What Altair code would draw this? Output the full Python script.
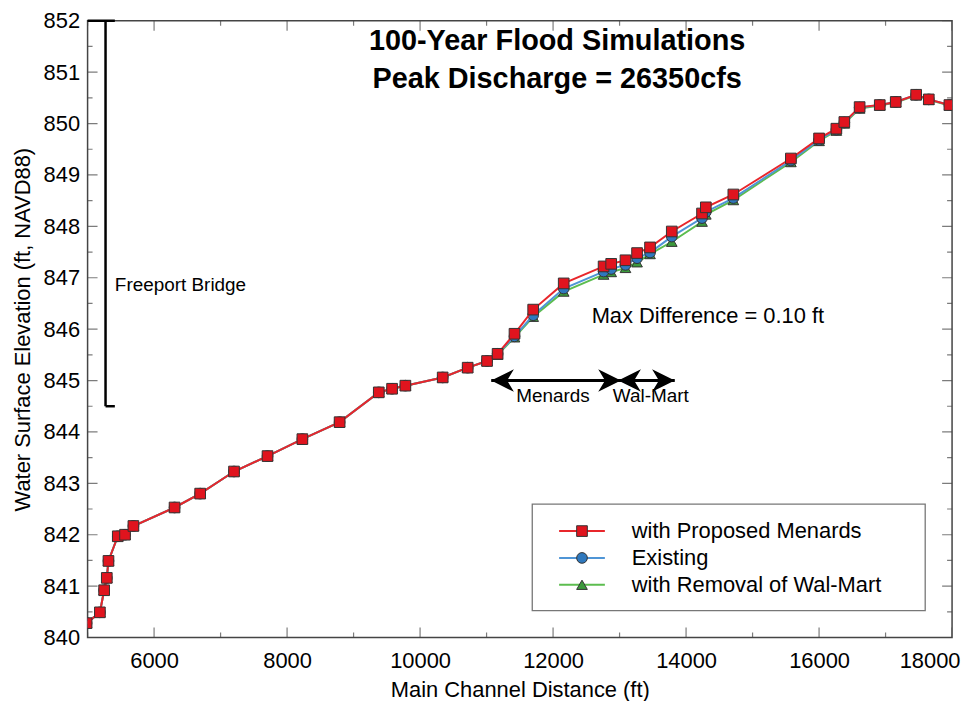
import altair as alt
import pandas as pd

# ---------------- data ----------------
distance = [4985, 5185, 5249, 5289, 5314, 5454, 5563, 5689, 6308, 6693,
            7202, 7706, 8230, 8790, 9379, 9579, 9779, 10340, 10716, 11007,
            11166, 11420, 11701, 12160, 12760, 12874, 13089, 13263, 13458, 13785,
            14240, 14297, 14711, 15576, 16000, 16260, 16380, 16610, 16913, 17153,
            17460, 17650, 17960]

wse_menards = [840.28, 840.49, 840.92, 841.16, 841.49, 841.97, 842.00, 842.17, 842.53, 842.80,
               843.23, 843.53, 843.86, 844.19, 844.77, 844.84, 844.90, 845.06, 845.25, 845.38,
               845.52, 845.91, 846.38, 846.89, 847.22, 847.27, 847.34, 847.48, 847.59, 847.90,
               848.25, 848.37, 848.62, 849.32, 849.71, 849.90, 850.03, 850.32, 850.36, 850.42,
               850.56, 850.47, 850.36]

wse_existing = [840.28, 840.49, 840.92, 841.16, 841.49, 841.97, 842.00, 842.17, 842.53, 842.80,
                843.23, 843.53, 843.86, 844.19, 844.77, 844.84, 844.90, 845.06, 845.25, 845.38,
                845.52, 845.86, 846.27, 846.79, 847.12, 847.17, 847.25, 847.38, 847.49, 847.80,
                848.16, 848.28, 848.55, 849.28, 849.68, 849.88, 850.02, 850.31, 850.36, 850.42,
                850.56, 850.47, 850.36]

wse_walmart = [840.28, 840.49, 840.92, 841.16, 841.49, 841.97, 842.00, 842.17, 842.53, 842.80,
               843.23, 843.53, 843.86, 844.19, 844.77, 844.84, 844.90, 845.06, 845.25, 845.38,
               845.50, 845.84, 846.24, 846.73, 847.06, 847.11, 847.19, 847.30, 847.46, 847.70,
               848.09, 848.23, 848.51, 849.25, 849.66, 849.86, 850.00, 850.29, 850.35, 850.41,
               850.55, 850.46, 850.35]

series_names = ["with Proposed Menards", "Existing", "with Removal of Wal-Mart"]
series_values = [wse_menards, wse_existing, wse_walmart]
line_colors = ["#e8262b", "#4f95d6", "#5cbd4f"]
marker_fills = ["#e0141e", "#2f78bd", "#3c9a3c"]
marker_shapes = ["square", "circle", "triangle-up"]

x_major = [6000, 8000, 10000, 12000, 14000, 16000, 18000]
x_minor = [5000, 7000, 9000, 11000, 13000, 15000, 17000]
y_major = [840, 841, 842, 843, 844, 845, 846, 847, 848, 849, 850, 851, 852]
y_minor = [840.5, 841.5, 842.5, 843.5, 844.5, 845.5, 846.5, 847.5, 848.5, 849.5, 850.5, 851.5]

bridge_x = 5270
bridge_bottom = 844.5
bridge_top = 852
bridge_cap_end = 5410
bridge_label = "Freeport Bridge"

arrow_names = ["Menards", "Wal-Mart"]
arrow_start = [11070, 12980]
arrow_end = [13020, 13830]
arrow_y = 845
arrow_label_x = [12000, 13470]
arrow_label_y = 844.69

max_diff_text = "Max Difference = 0.10 ft"
max_diff_x = 12580
max_diff_y = 846.25

title_lines = ["100-Year Flood Simulations", "Peak Discharge = 26350cfs"]

# ---------------- layout ----------------
W, H = 869, 620
FONT = "Liberation Sans"
xscale = alt.Scale(domain=[5000, 18000], nice=False, zero=False)
yscale = alt.Scale(domain=[840, 852], nice=False, zero=False)

x_axis = alt.Axis(values=x_major, format="d", title="Main Channel Distance (ft)",
                  labelPadding=13, titlePadding=8, labelFlush=True, labelFlushOffset=8)
y_axis = alt.Axis(values=y_major, format="d", title="Water Surface Elevation (ft, NAVD88)",
                  labelPadding=8, titlePadding=9)

layers = []

# series: drawn green, blue, red so that red sits on top; all share the axes
for idx in [2, 1, 0]:
    df = pd.DataFrame({"distance": distance, "wse": series_values[idx]})
    xenc = alt.X("distance:Q", scale=xscale, axis=x_axis)
    yenc = alt.Y("wse:Q", scale=yscale, axis=y_axis)
    base = alt.Chart(df).encode(x=xenc, y=yenc)
    layers.append(base.mark_line(color=line_colors[idx], strokeWidth=2, clip=True))
    layers.append(base.mark_point(shape=marker_shapes[idx], filled=True, fill=marker_fills[idx],
                                  stroke="#333333", strokeWidth=1, size=115, opacity=1, clip=True))

# inward ticks on all four sides
tick_color = "#444444"
for vals, size in [(x_major, 20), (x_minor, 10)]:
    tdf = pd.DataFrame({"distance": vals})
    for ypix in [0, H]:
        layers.append(alt.Chart(tdf).mark_tick(color=tick_color, thickness=1.2, size=size,
                                               orient="vertical", clip=True)
                      .encode(x=alt.X("distance:Q", scale=xscale, axis=x_axis), y=alt.value(ypix)))
for vals, size in [(y_major, 20), (y_minor, 10)]:
    tdf = pd.DataFrame({"wse": vals})
    for xpix in [0, W]:
        layers.append(alt.Chart(tdf).mark_tick(color=tick_color, thickness=1.2, size=size,
                                               orient="horizontal", clip=True)
                      .encode(y=alt.Y("wse:Q", scale=yscale, axis=y_axis), x=alt.value(xpix)))

# Freeport Bridge marker
bdf = pd.DataFrame({"distance": [bridge_x], "x0": [xscale.domain[0]], "xc": [bridge_cap_end],
                    "wse": [bridge_bottom], "y2": [bridge_top], "label": [bridge_label],
                    "ly": [846.85]})
bx = alt.X("distance:Q", scale=xscale, axis=x_axis)
layers.append(alt.Chart(bdf).mark_rule(color="black", strokeWidth=2.5)
              .encode(x=bx, y=alt.Y("wse:Q", scale=yscale, axis=y_axis), y2="y2:Q"))
layers.append(alt.Chart(bdf).mark_rule(color="black", strokeWidth=2.5)
              .encode(x=alt.X("x0:Q", scale=xscale, axis=x_axis), x2="xc:Q",
                      y=alt.Y("y2:Q", scale=yscale, axis=y_axis)))
layers.append(alt.Chart(bdf).mark_rule(color="black", strokeWidth=2.5)
              .encode(x=bx, x2="xc:Q", y=alt.Y("wse:Q", scale=yscale, axis=y_axis)))
layers.append(alt.Chart(bdf).mark_text(align="left", baseline="middle", font=FONT,
                                       fontSize=19, color="black")
              .encode(x=alt.X("xc:Q", scale=xscale, axis=x_axis),
                      y=alt.Y("ly:Q", scale=yscale, axis=y_axis), text="label:N"))

# Menards / Wal-Mart extent arrows
adf = pd.DataFrame({"name": arrow_names, "x1": arrow_start, "x2": arrow_end,
                    "y": [arrow_y] * 2, "lx": arrow_label_x, "ly": [arrow_label_y] * 2})
layers.append(alt.Chart(adf).mark_rule(color="black", strokeWidth=3)
              .encode(x=alt.X("x1:Q", scale=xscale, axis=x_axis), x2="x2:Q",
                      y=alt.Y("y:Q", scale=yscale, axis=y_axis)))
head_left = "M 0 0 L 2 -1 L 1.4 0 L 2 1 Z"
head_right = "M 0 0 L -2 -1 L -1.4 0 L -2 1 Z"
layers.append(alt.Chart(adf).mark_point(shape=head_left, filled=True, fill="black",
                                        size=520, opacity=1)
              .encode(x=alt.X("x1:Q", scale=xscale, axis=x_axis),
                      y=alt.Y("y:Q", scale=yscale, axis=y_axis)))
layers.append(alt.Chart(adf).mark_point(shape=head_right, filled=True, fill="black",
                                        size=520, opacity=1)
              .encode(x=alt.X("x2:Q", scale=xscale, axis=x_axis),
                      y=alt.Y("y:Q", scale=yscale, axis=y_axis)))
layers.append(alt.Chart(adf).mark_text(align="center", baseline="middle", font=FONT,
                                       fontSize=19, color="black")
              .encode(x=alt.X("lx:Q", scale=xscale, axis=x_axis),
                      y=alt.Y("ly:Q", scale=yscale, axis=y_axis), text="name:N"))

# Max difference note
mdf = pd.DataFrame({"x": [max_diff_x], "y": [max_diff_y], "t": [max_diff_text]})
layers.append(alt.Chart(mdf).mark_text(align="left", baseline="middle", font=FONT,
                                       fontSize=22, color="black")
              .encode(x=alt.X("x:Q", scale=xscale, axis=x_axis),
                      y=alt.Y("y:Q", scale=yscale, axis=y_axis), text="t:N"))

# Title inside the plot
tdf = pd.DataFrame({"t": title_lines, "ty": [20 + 39 * i for i in range(len(title_lines))]})
layers.append(alt.Chart(tdf).mark_text(align="center", baseline="middle", font=FONT,
                                       fontSize=29, fontWeight="bold", color="black")
              .encode(x=alt.value(472), y=alt.Y("ty:Q", scale=None), text="t:N"))

# Legend box (manual, to show line + marker symbols)
box = pd.DataFrame({"a": [0]})
layers.append(alt.Chart(box).mark_rect(fill="white", stroke="#777777", strokeWidth=1.3)
              .encode(x=alt.value(447), x2=alt.value(842), y=alt.value(486), y2=alt.value(593)))
ldf = pd.DataFrame({"series": series_names, "ly": [513 + 27 * i for i in range(3)]})
lcol = alt.Color("series:N", scale=alt.Scale(domain=series_names, range=line_colors), legend=None)
layers.append(alt.Chart(ldf).mark_rule(strokeWidth=2)
              .encode(x=alt.value(474), x2=alt.value(520), y=alt.Y("ly:Q", scale=None), color=lcol))
layers.append(alt.Chart(ldf).mark_point(filled=True, stroke="#333333", strokeWidth=1,
                                        size=115, opacity=1)
              .encode(x=alt.value(497), y=alt.Y("ly:Q", scale=None),
                      fill=alt.Fill("series:N", scale=alt.Scale(domain=series_names, range=marker_fills), legend=None),
                      shape=alt.Shape("series:N", scale=alt.Scale(domain=series_names, range=marker_shapes), legend=None)))
layers.append(alt.Chart(ldf).mark_text(align="left", baseline="middle", font=FONT,
                                       fontSize=22, color="black")
              .encode(x=alt.value(547), y=alt.Y("ly:Q", scale=None), text="series:N"))

chart = (
    alt.layer(*layers)
    .resolve_scale(color="independent", fill="independent", shape="independent")
    .properties(width=W, height=H,
                background="white",
                autosize=alt.AutoSizeParams(type="none"),
                padding={"left": 80, "top": 11, "right": 12, "bottom": 62})
    .configure_view(stroke="#444444", strokeWidth=1.5)
    .configure_axis(domain=False, ticks=False, grid=False,
                    labelFont=FONT, labelFontSize=22, labelColor="black",
                    titleFont=FONT, titleFontSize=22, titleFontWeight="normal", titleColor="black")
)

chart.save("out.html", embed_options={"renderer": "svg", "actions": False})
